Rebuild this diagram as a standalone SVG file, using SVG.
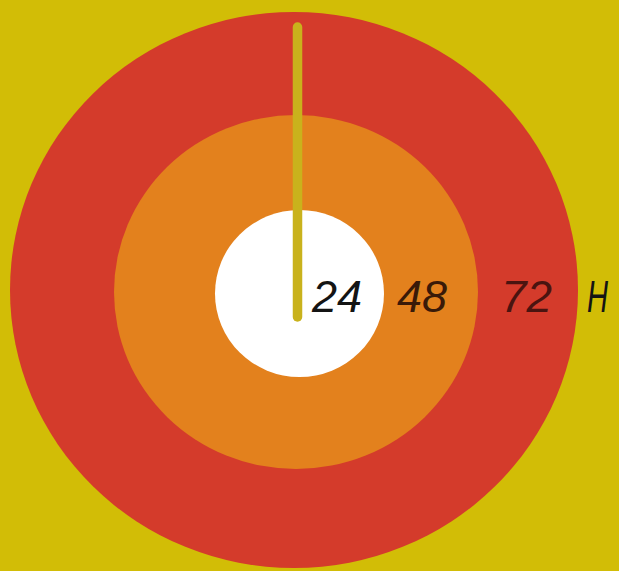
<svg xmlns="http://www.w3.org/2000/svg" width="619" height="571" viewBox="0 0 619 571">
<style>
.lbl{font-family:"Liberation Sans",Arial,sans-serif;font-size:45px;font-style:italic;}
</style>
<rect width="619" height="571" fill="#d2bd06"/>
<g id="ring72"><ellipse cx="294" cy="290" rx="284" ry="278" fill="#d43b2b"/></g>
<g id="ring48"><ellipse cx="296" cy="292" rx="182" ry="177" fill="#e3811d"/></g>
<g id="ring24"><ellipse cx="299.5" cy="293.5" rx="84.5" ry="83.5" fill="#ffffff"/></g>
<g id="connectors"><line x1="297.5" y1="27" x2="297.5" y2="317" stroke="#c9b21c" stroke-width="9.5" stroke-linecap="round"/></g>
<g id="labels">
<text class="lbl" x="312" y="312" fill="#141414" textLength="50" lengthAdjust="spacingAndGlyphs">24</text>
<text class="lbl" x="397" y="312" fill="#3a1a08" textLength="50" lengthAdjust="spacingAndGlyphs">48</text>
<text class="lbl" x="501" y="312" fill="#4a1410" textLength="51" lengthAdjust="spacingAndGlyphs">72</text>
<text class="lbl" x="587" y="312" fill="#141414" textLength="21" lengthAdjust="spacingAndGlyphs">H</text>
</g>
</svg>
